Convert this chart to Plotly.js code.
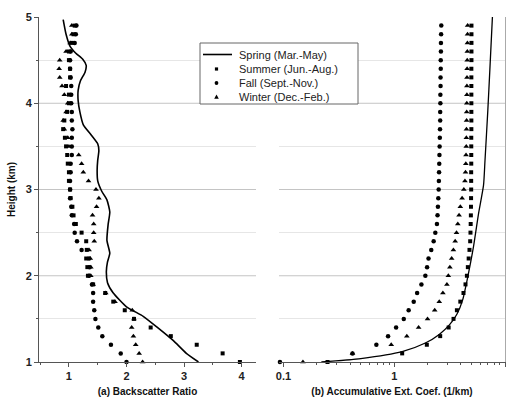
<!DOCTYPE html>
<html><head><meta charset="utf-8">
<script src="https://cdn.plot.ly/plotly-3.0.1.min.js"></script>
<style>html,body{margin:0;padding:0;background:#fff}</style>
</head><body><div id="chart" style="width:508px;height:397px"></div>
<script>
const heights = [1.0,1.1,1.2,1.3,1.4,1.5,1.6,1.7,1.8,1.9,2.0,2.1,2.2,2.3,2.4,2.5,2.6,2.7,2.8,2.9,3.0,3.1,3.2,3.3,3.4,3.5,3.6,3.7,3.8,3.9,4.0,4.1,4.2,4.3,4.4,4.5,4.6,4.7,4.8,4.9];

const summerBSR = [3.97,3.67,3.22,2.77,2.42,2.13,1.97,1.77,1.63,1.42, 1.33,1.32,1.30,1.31,1.30,1.22,1.12,1.08,1.06,1.03, 1.02,1.00,1.00,0.98,0.97,0.95,0.93,0.90,0.92,0.97, 1.00,1.00,0.95,1.02,1.02,1.00,1.00,1.05,1.08,1.10];
const fallBSR   = [2.00,1.90,1.73,1.58,1.51,1.46,1.44,1.42,1.42,1.40, 1.35,1.36,1.35,1.22,1.14,1.10,1.09,1.05,1.04,1.02, 1.02,1.02,1.03,1.03,1.05,1.05,1.05,1.06,1.05,1.05, 1.04,1.04,1.04,1.03,1.02,1.02,1.03,1.10,1.12,1.13];
const winterBSR = [2.28,2.22,2.16,2.12,2.09,2.13,2.10,1.80,1.64,1.42, 1.38,1.38,1.37,1.35,1.44,1.43,1.43,1.41,1.48,1.52, 1.47,1.34,1.25,1.22,1.17,1.00,0.98,0.92,0.90,0.95, 0.98,0.92,0.88,0.84,0.83,0.84,0.95,1.02,1.05,1.05];

const springBSRx = [3.25,3.04,2.81,2.52,2.29,2.00,1.77,1.67,1.65,1.67,1.71,1.66,1.68,1.71,1.66,1.57,1.50,1.49,1.50,1.52,1.50,1.39,1.25,1.19,1.16,1.16,1.20,1.28,1.30,1.24,1.12,1.02,0.95,0.90];
const springBSRh = [1.00,1.10,1.25,1.41,1.53,1.64,1.80,1.92,2.05,2.16,2.26,2.41,2.59,2.74,2.88,2.98,3.10,3.22,3.34,3.45,3.53,3.63,3.75,3.90,4.03,4.15,4.26,4.36,4.44,4.51,4.58,4.66,4.80,4.97];

const summerAEC = [0.25,1.18,1.97,2.60,3.10,3.43,3.68,3.95,4.22,4.40, 4.53,4.62,4.70,4.78,4.85,4.88,4.90,4.92,4.93,4.94, 4.95,4.95,4.95,4.96,4.96,4.96,4.96,4.97,4.97,4.97, 4.97,4.97,4.97,4.97,4.97,4.98,4.98,4.98,4.98,4.98];
const fallAEC   = [0.093,0.42,0.69,0.88,1.04,1.22,1.35,1.50,1.61,1.76, 1.91,1.98,2.04,2.16,2.27,2.35,2.43,2.46,2.48,2.50, 2.52,2.53,2.54,2.55,2.56,2.57,2.58,2.59,2.60,2.60, 2.61,2.61,2.62,2.62,2.63,2.63,2.64,2.64,2.65,2.66];
const winterAEC = [0.15,0.42,0.94,1.30,1.66,2.00,2.32,2.55,2.75,2.99, 3.08,3.18,3.30,3.42,3.55,3.65,3.75,3.85,3.95,4.10, 4.25,4.35,4.40,4.43,4.45,4.47,4.48,4.49,4.50,4.51, 4.52,4.53,4.53,4.54,4.55,4.56,4.57,4.58,4.59,4.60];

const springAECx = [0.22,0.5,1.18,1.91,2.55,3.15,3.70,4.15,4.55,5.2,5.77,6.4,6.6,7.0,7.3,7.7];
const springAECh = [1.0,1.04,1.12,1.22,1.32,1.43,1.56,1.72,1.95,2.34,2.72,3.05,3.34,3.92,4.39,5.0];

const legendNames = ['Spring (Mar.-May)','Summer (Jun.-Aug.)','Fall (Sept.-Nov.)','Winter (Dec.-Feb.)'];
const majorGrid = [2,3,4];
const minorGrid = [1.5,2.5,3.5,4.5];

const blk = '#000';
const traces = [
  {x: springBSRx, y: springBSRh, mode:'lines', line:{color:blk, width:1.6, shape:'spline', smoothing:0.5}, xaxis:'x', yaxis:'y'},
  {x: summerBSR, y: heights, mode:'markers', marker:{symbol:'square', size:4, color:blk}, xaxis:'x', yaxis:'y', cliponaxis:false},
  {x: fallBSR, y: heights, mode:'markers', marker:{symbol:'circle', size:4.5, color:blk}, xaxis:'x', yaxis:'y', cliponaxis:false},
  {x: winterBSR, y: heights, mode:'markers', marker:{symbol:'triangle-up', size:5, color:blk}, xaxis:'x', yaxis:'y', cliponaxis:false},
  {x: springAECx, y: springAECh, mode:'lines', line:{color:blk, width:1.3, shape:'spline', smoothing:0.6}, xaxis:'x2', yaxis:'y2'},
  {x: summerAEC, y: heights, mode:'markers', marker:{symbol:'square', size:4, color:blk}, xaxis:'x2', yaxis:'y2', cliponaxis:false},
  {x: fallAEC, y: heights, mode:'markers', marker:{symbol:'circle', size:4.5, color:blk}, xaxis:'x2', yaxis:'y2', cliponaxis:false},
  {x: winterAEC, y: heights, mode:'markers', marker:{symbol:'triangle-up', size:5, color:blk}, xaxis:'x2', yaxis:'y2', cliponaxis:false}
];

const tickFont = {family:'Liberation Sans, Arial, sans-serif', size:11, color:'#222', weight:'bold'};
const titleFont = {family:'Liberation Sans, Arial, sans-serif', size:10, color:'#111', weight:'bold'};
const axisLine = '#555';
const gridMajor = '#c4c4c4';
const gridMinor = '#e6e6e6';

// major gridlines (skipping the top edge, as in the reference)
const shapes = [];
['x domain','x2 domain'].forEach(xr => {
  majorGrid.forEach(v => shapes.push({type:'line', xref:xr, yref:'y', x0:0, x1:1, y0:v, y1:v, layer:'below', line:{color:gridMajor, width:1}}));
});

// hand-made legend (compact rows, as in the reference)
const W = 466, H = 345, L = 39, T = 17;
const px = v => (v - L) / W, py = v => (T + H - v) / H;
shapes.push({type:'rect', xref:'paper', yref:'paper', x0:px(200), x1:px(358), y0:py(104), y1:py(43), fillcolor:'#fff', line:{color:'#666', width:1}, layer:'above'});
const rowY = [54.5, 69, 83, 97];
const mx = 216.5;
shapes.push({type:'line', xref:'paper', yref:'paper', x0:px(203), x1:px(232), y0:py(rowY[0]), y1:py(rowY[0]), line:{color:blk, width:1.6}, layer:'above'});
shapes.push({type:'rect', xref:'paper', yref:'paper', x0:px(mx-1.6), x1:px(mx+1.6), y0:py(rowY[1]+1.6), y1:py(rowY[1]-1.6), fillcolor:blk, line:{width:0}, layer:'above'});
shapes.push({type:'circle', xref:'paper', yref:'paper', x0:px(mx-1.9), x1:px(mx+1.9), y0:py(rowY[2]+1.9), y1:py(rowY[2]-1.9), fillcolor:blk, line:{width:0}, layer:'above'});
shapes.push({type:'path', xref:'paper', yref:'paper', path:`M ${px(mx-2.3)} ${py(rowY[3]+1.8)} L ${px(mx+2.3)} ${py(rowY[3]+1.8)} L ${px(mx)} ${py(rowY[3]-2.4)} Z`, fillcolor:blk, line:{width:0}, layer:'above'});
const annotations = legendNames.map((t, i) => ({xref:'paper', yref:'paper', x:px(237), y:py(rowY[i]), xanchor:'left', yanchor:'middle', text:t, showarrow:false,
  font:{family:'Liberation Sans, Arial, sans-serif', size:11, color:'#222'}}));

const layout = {
  width:508, height:397,
  margin:{l:39, r:3, t:17, b:35},
  paper_bgcolor:'#fff', plot_bgcolor:'#fff',
  font:{family:'Liberation Sans, Arial, sans-serif', size:10, color:'#111'},
  showlegend:false,
  shapes: shapes,
  annotations: annotations,
  xaxis:{domain:[0,0.4657], range:[0.48,4.25], tickvals:[1,2,3,4], ticks:'outside', ticklen:4, tickcolor:axisLine,
         minor:{tickvals:[0.5,1.5,2.5,3.5], ticks:'outside', ticklen:2, tickcolor:axisLine},
         showline:true, linecolor:axisLine, linewidth:1, showgrid:false, zeroline:false, tickfont:tickFont,
         title:{text:'(a) Backscatter Ratio', font:titleFont, standoff:6}},
  yaxis:{domain:[0,1], range:[1,5], tickvals:[1,2,3,4,5], ticks:'outside', ticklen:4, tickcolor:axisLine,
         minor:{tickvals:minorGrid, ticks:'outside', ticklen:2, tickcolor:axisLine, showgrid:true, gridcolor:gridMinor},
         showline:true, linecolor:axisLine, linewidth:1, showgrid:false, zeroline:false, tickfont:tickFont,
         title:{text:'Height (km)', font:titleFont, standoff:8}},
  xaxis2:{domain:[0.5150,1], type:'log', range:[-1.04,1.0], tickvals:[0.1,1,10], ticktext:['0.1','1','10'],
          ticks:'outside', ticklen:4, tickcolor:axisLine,
          minor:{tickvals:[0.2,0.3,0.4,0.5,0.6,0.7,0.8,0.9,2,3,4,5,6,7,8,9], ticks:'outside', ticklen:2, tickcolor:axisLine},
          showline:true, linecolor:axisLine, linewidth:1, showgrid:false, zeroline:false, tickfont:tickFont,
          title:{text:'(b) Accumulative Ext. Coef. (1/km)', font:titleFont, standoff:6}},
  yaxis2:{anchor:'x2', side:'right', range:[1,5], tickvals:[1,2,3,4,5], showticklabels:false, ticks:'',
          minor:{tickvals:minorGrid, showgrid:true, gridcolor:gridMinor},
          showline:true, linecolor:'#aaa', linewidth:1, showgrid:false, zeroline:false}
};

Plotly.newPlot('chart', traces, layout, {displayModeBar:false, staticPlot:true});
</script></body></html>
